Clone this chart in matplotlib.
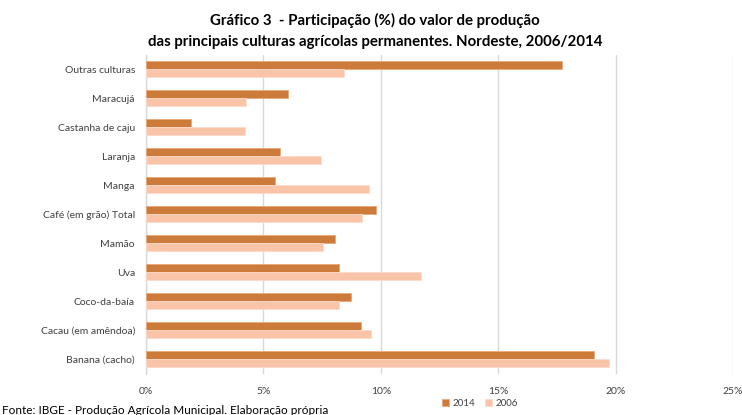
import matplotlib
matplotlib.use("Agg")
import matplotlib.pyplot as plt
import numpy as np

categories = ["Outras culturas", "Maracujá", "Castanha de caju", "Laranja", "Manga",
              "Café (em grão) Total", "Mamão", "Uva", "Coco-da-baía",
              "Cacau (em amêndoa)", "Banana (cacho)"]
v2014 = [17.71, 6.06, 1.93, 5.70, 5.50, 9.79, 8.03, 8.22, 8.73, 9.17, 19.06]
v2006 = [8.44, 4.26, 4.22, 7.44, 9.51, 9.22, 7.52, 11.73, 8.23, 9.57, 19.74]
xticks = [0, 5, 10, 15, 20, 25]
xticklabels = ["0%", "5%", "10%", "15%", "20%", "25%"]

plt.rcParams['font.family'] = ['Lato', 'DejaVu Sans']

fig = plt.figure(figsize=(7.42, 4.15), dpi=100)
ax = fig.add_axes([146/742, 1 - 373.5/415, (733 - 146)/742, 319/415])

y = np.arange(len(categories))
h = 0.28
c14 = "#CD7B3A"
c06 = "#F9C4A8"
ax.barh(y - h/2, v2014, height=h, color=c14, edgecolor="#E8A878", linewidth=0.6, label="2014", zorder=3)
ax.barh(y + h/2, v2006, height=h, color=c06, edgecolor="#FCDCCB", linewidth=0.6, label="2006", zorder=3)

ax.set_ylim(len(categories) - 0.5, -0.5)
ax.set_xlim(0, 25)
ax.set_xticks(xticks)
ax.set_xticklabels(xticklabels, fontsize=7.5, color="#404040")
ax.set_yticks(y)
ax.set_yticklabels(categories, fontsize=7.5, color="#404040")
ax.tick_params(length=0, pad=8)
ax.tick_params(axis='x', pad=10)
ax.grid(axis='x', color="#D9D9D9", linewidth=1, zorder=0)
for s in ["top", "right", "bottom"]:
    ax.spines[s].set_visible(False)
ax.spines["left"].set_color("#D9D9D9")
ax.spines["left"].set_linewidth(1)
ax.spines["left"].set_zorder(1)

fig.text(375/742, 1 - 20/415, "Gráfico 3  - Participação (%) do valor de produção",
         ha="center", va="center", fontsize=10.8, fontweight="bold", color="#000000")
fig.text(375/742, 1 - 42/415, "das principais culturas agrícolas permanentes. Nordeste, 2006/2014",
         ha="center", va="center", fontsize=10.8, fontweight="bold", color="#000000")

leg = fig.legend(loc="center", bbox_to_anchor=(480/742, 1 - 403/415), ncol=2, frameon=False,
                 fontsize=7, handlelength=0.7, handleheight=0.7, handletextpad=0.4,
                 columnspacing=1.0, labelcolor="#404040")

fig.text(2/742, 1 - 410/415, "Fonte: IBGE - Produção Agrícola Municipal. Elaboração própria",
         ha="left", va="center", fontsize=8.5, color="#000000")

fig.savefig("out.png", dpi=100)
